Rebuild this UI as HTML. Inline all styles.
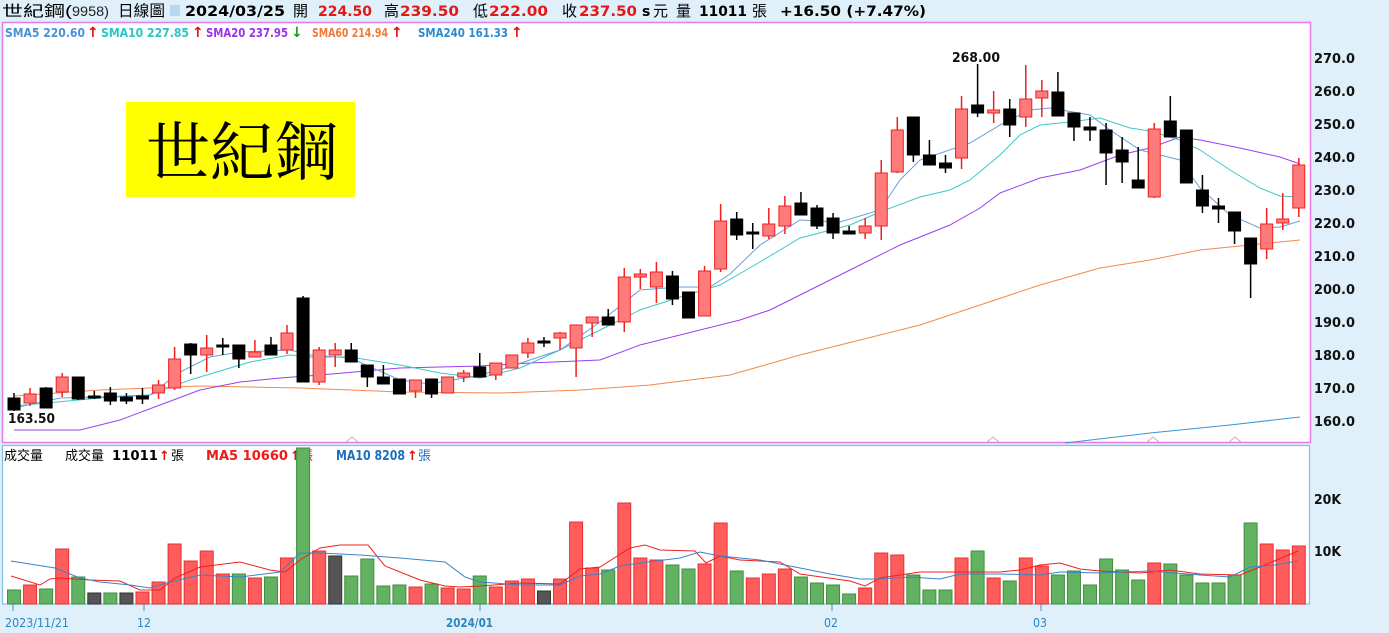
<!DOCTYPE html>
<html><head><meta charset="utf-8">
<style>
html,body{margin:0;padding:0;background:#dff0fb;width:1389px;height:633px;overflow:hidden;}
svg{display:block;}
text{font-family:"DejaVu Sans","Noto Sans CJK TC",sans-serif;}
.c{font-family:"Liberation Sans","Noto Sans CJK TC",sans-serif;}
</style></head>
<body>
<svg id="s" width="1389" height="633" xmlns="http://www.w3.org/2000/svg">
<rect x="0" y="0" width="1389" height="633" fill="#dff0fb"/>
<rect x="2.5" y="22.5" width="1308" height="420" fill="#fff" stroke="#e67ce6" stroke-width="1.5"/>
<rect x="2.5" y="445.5" width="1307" height="158.5" fill="#fff" stroke="#86bde4" stroke-width="1.2"/>
<!-- header -->
<text x="2" y="16" font-size="15" class="c" fill="#000" textLength="70" lengthAdjust="spacingAndGlyphs">世紀鋼(</text>
<text x="2" y="16" font-size="15" class="c" fill="#000" visibility="hidden">.</text>
<text x="72" y="16" font-size="14" class="c" fill="#222" textLength="37" lengthAdjust="spacingAndGlyphs">9958)</text>
<text x="118" y="16" font-size="15.5" fill="#000" class="c" textLength="47" lengthAdjust="spacingAndGlyphs">日線圖</text>
<rect x="170" y="5" width="10" height="11" fill="#b8d8f0"/>
<g font-size="14" font-weight="bold">
<text x="185" y="16" fill="#000" textLength="100" lengthAdjust="spacingAndGlyphs">2024/03/25</text>
<text x="318" y="16" fill="#e01818" textLength="54" lengthAdjust="spacingAndGlyphs">224.50</text>
<text x="400" y="16" fill="#e01818" textLength="59" lengthAdjust="spacingAndGlyphs">239.50</text>
<text x="489" y="16" fill="#e01818" textLength="59" lengthAdjust="spacingAndGlyphs">222.00</text>
<text x="579" y="16" fill="#e01818" textLength="58" lengthAdjust="spacingAndGlyphs">237.50</text>
<text x="642" y="16" fill="#000">s</text>
<text x="699" y="16" fill="#000" textLength="48" lengthAdjust="spacingAndGlyphs">11011</text>
<text x="780" y="16" fill="#000" textLength="146" lengthAdjust="spacingAndGlyphs">+16.50 (+7.47%)</text>
</g>
<g font-size="15" fill="#000" class="c">
<text x="293" y="16" class="c">開</text><text x="384" y="16" class="c">高</text><text x="473" y="16" class="c">低</text><text x="562" y="16" class="c">收</text><text x="653" y="16" class="c">元</text><text x="676" y="16" class="c">量</text><text x="752" y="16" class="c">張</text>
</g>
<!-- sma legend -->
<g font-size="12" font-weight="bold">
<text x="5" y="37" fill="#4a8fd8" textLength="80" lengthAdjust="spacingAndGlyphs">SMA5 220.60</text>
<text x="101" y="37" fill="#2cc4c4" textLength="88" lengthAdjust="spacingAndGlyphs">SMA10 227.85</text>
<text x="206" y="37" fill="#9a33e8" textLength="82" lengthAdjust="spacingAndGlyphs">SMA20 237.95</text>
<text x="312" y="37" fill="#f07a38" textLength="76" lengthAdjust="spacingAndGlyphs">SMA60 214.94</text>
<text x="418" y="37" fill="#2c8ad0" textLength="90" lengthAdjust="spacingAndGlyphs">SMA240 161.33</text>
</g>
<g font-size="14" font-weight="bold" fill="#e01010">
<text x="87" y="37">↑</text><text x="192" y="37">↑</text><text x="291" y="37" fill="#1a9a1a">↓</text><text x="391" y="37">↑</text><text x="511" y="37">↑</text>
</g>
<!-- yellow box -->
<rect x="126" y="102" width="229" height="95" fill="#ffff00"/>
<text x="242" y="175" font-size="64" text-anchor="middle" fill="#000" style="font-family:'Noto Serif CJK SC','Liberation Serif',serif">世紀鋼</text>
<text x="8" y="423" font-size="13" font-weight="bold" fill="#111" textLength="47" lengthAdjust="spacingAndGlyphs">163.50</text>
<text x="952" y="62" font-size="13" font-weight="bold" fill="#111" textLength="48" lengthAdjust="spacingAndGlyphs">268.00</text>
<!-- volume legend -->
<g font-size="13">
<text x="4" y="460" fill="#000" class="c">成交量</text>
<text x="65" y="460" fill="#000" class="c">成交量</text>
<text x="112" y="460" font-weight="bold" fill="#000" textLength="46" lengthAdjust="spacingAndGlyphs">11011</text>
<text x="159" y="460" fill="#e01010" font-weight="bold">↑</text>
<text x="171" y="460" fill="#000" class="c">張</text>
<text x="206" y="460" font-weight="bold" fill="#f01818" textLength="82" lengthAdjust="spacingAndGlyphs">MA5 10660</text>
<text x="290" y="460" fill="#e01010" font-weight="bold">↑</text>
<text x="300" y="460" fill="#f01818" class="c">張</text>
<text x="336" y="460" font-weight="bold" fill="#1a70c0" textLength="69" lengthAdjust="spacingAndGlyphs">MA10 8208</text>
<text x="407" y="460" fill="#e01010" font-weight="bold">↑</text>
<text x="418" y="460" fill="#1a70c0" class="c">張</text>
</g>
<g id="g"></g>
</svg>
<script>
var g=document.getElementById('g'),h='';
function X(i){return 14+i*16.06;}
for(var k=0;k<=11;k++){var p=270-10*k;h+='<text x="1314" y="'+(63+33*k)+'" font-size="13" font-weight="bold" fill="#111" textLength="41" lengthAdjust="spacingAndGlyphs">'+p.toFixed(1)+'</text>';}
h+='<text x="1314" y="504" font-size="13" font-weight="bold" fill="#111" textLength="27" lengthAdjust="spacingAndGlyphs">20K</text>';
h+='<text x="1314" y="556" font-size="13" font-weight="bold" fill="#111" textLength="27" lengthAdjust="spacingAndGlyphs">10K</text>';
var dt=[[13,'2023/11/21',5,64],[144,'12',137,14],[480,'2024/01',446,47],[832,'02',824,14],[1041,'03',1033,14]];
dt.forEach(function(d){h+='<line x1="'+d[0]+'" y1="604" x2="'+d[0]+'" y2="611" stroke="#3a8ec8"/>';h+='<text x="'+d[2]+'" y="627" font-size="12" fill="#2a86c0" textLength="'+d[3]+'" lengthAdjust="spacingAndGlyphs"'+(d[1]=='2024/01'?' font-weight="bold"':'')+'>'+d[1]+'</text>';});
[352,993,1153,1235].forEach(function(x){h+='<polyline points="'+(x-6)+',442 '+x+',437 '+(x+6)+',442" fill="none" stroke="#e0a0c0" stroke-width="1"/>';});
function pl(pts,c,w){var s=pts.map(function(p){return p[0]+','+p[1]}).join(' ');h+='<polyline points="'+s+'" fill="none" stroke="'+c+'" stroke-width="'+(w||1)+'"/>';}
pl([[14,396],[100,390],[200,386],[300,388],[400,392],[500,393],[580,390],[650,385],[730,375],[800,355],[860,340],[920,325],[980,305],[1040,285],[1100,268],[1150,260],[1200,250],[1250,245],[1300,240]],'#f08a50');
pl([[14,430],[80,430],[120,420],[160,405],[200,390],[240,382],[280,378],[320,375],[400,368],[480,366],[530,363],[600,360],[640,345],[700,330],[740,320],[770,310],[800,295],[850,270],[900,245],[950,225],[980,208],[1000,193],[1040,178],[1080,170],[1120,155],[1150,148],[1180,137],[1200,140],[1240,148],[1280,157],[1300,164]],'#9b3ff0');
pl([[1065,443],[1150,433],[1230,425],[1300,417]],'#3a94d4');
pl([[14,406],[100,398],[150,395],[190,380],[250,362],[290,355],[310,357],[350,357],[400,365],[440,373],[480,378],[520,368],[560,350],[600,330],[640,310],[680,297],[720,285],[760,262],[800,238],[850,225],[880,212],[920,197],[950,190],[970,180],[1000,155],[1020,135],[1040,125],[1070,122],[1100,118],[1130,128],[1150,131],[1180,140],[1200,150],[1230,170],[1260,188],[1280,196],[1300,197]],'#3cc8c8');
pl([[14,408],[60,398],[100,397],[150,395],[180,372],[210,357],[240,352],[290,350],[310,355],[350,358],[400,380],[430,384],[470,377],[500,370],[560,350],[600,322],[640,290],[680,287],[710,287],[730,274],[760,245],[800,220],[840,222],[880,210],[900,180],[920,160],[970,143],[1000,125],[1030,110],[1050,108],[1090,115],[1110,130],[1140,150],[1180,160],[1200,188],[1230,215],[1260,228],[1280,227],[1300,221]],'#6a9fd8');
var C=[[398,410,393,411,'k'],[394,403,388,406,'r'],[388,408,387,408,'k'],[377,392,373,397,'r'],[377,399,377,400,'k'],[396,398,391,399,'k'],[393,401,387,405,'k'],[397,401,393,404,'k'],[396,399,388,404,'k'],[385,393,380,399,'r'],[359,388,347,390,'r'],[344,355,343,374,'k'],[348,355,335,372,'r'],[345,347,338,355,'k'],[345,359,345,368,'k'],[352,357,340,357,'r'],[345,355,337,355,'k'],[333,350,325,354,'r'],[298,382,296,382,'k'],[350,382,347,385,'r'],[350,355,343,367,'r'],[350,362,343,362,'k'],[365,377,365,387,'k'],[377,384,365,384,'k'],[379,394,379,394,'k'],[380,391,380,398,'r'],[379,394,379,398,'k'],[377,393,377,393,'r'],[373,377,370,382,'r'],[367,377,353,377,'k'],[363,375,363,380,'r'],[355,368,355,368,'r'],[343,353,338,358,'r'],[341,343,337,347,'k'],[333,338,332,350,'r'],[325,348,325,377,'r'],[317,323,317,337,'r'],[317,325,309,325,'k'],[277,322,268,332,'r'],[274,277,269,289,'r'],[272,287,262,303,'r'],[276,299,271,305,'k'],[292,318,292,318,'k'],[271,316,266,316,'r'],[221,269,204,272,'r'],[219,235,212,240,'k'],[232,234,223,249,'k'],[224,236,208,239,'r'],[206,226,196,234,'r'],[203,215,192,215,'k'],[208,226,205,229,'k'],[218,233,213,239,'k'],[231,234,226,234,'k'],[226,233,218,239,'r'],[173,226,160,240,'r'],[130,172,117,173,'r'],[117,155,117,162,'k'],[155,165,140,165,'k'],[163,168,155,173,'k'],[109,158,96,169,'r'],[105,113,64,117,'k'],[110,113,91,123,'r'],[109,125,99,137,'k'],[99,117,65,127,'r'],[91,98,80,117,'r'],[92,116,72,116,'k'],[113,127,113,141,'k'],[127,130,117,141,'k'],[130,153,123,185,'k'],[150,162,137,183,'k'],[180,188,147,188,'k'],[129,197,123,198,'r'],[121,137,96,137,'k'],[130,183,130,183,'k'],[190,206,175,213,'k'],[206,209,198,223,'k'],[212,231,212,244,'k'],[238,264,238,298,'k'],[224,249,208,259,'r'],[219,223,193,230,'r'],[165,208,158,217,'r']];
C.forEach(function(c,i){var x=X(i),r=c[4]=='r',sc=r?'#ee2020':'#000',fc=r?'#ff7a7a':'#000';
h+='<line x1="'+x+'" y1="'+c[2]+'" x2="'+x+'" y2="'+c[3]+'" stroke="'+sc+'" stroke-width="1.5"/>';
var hh=Math.max(c[1]-c[0],2);h+='<rect x="'+(x-6)+'" y="'+c[0]+'" width="12" height="'+hh+'" fill="'+fc+'" stroke="'+sc+'" stroke-width="1"/>';});
var V=[['g',590],['r',585],['g',589],['r',549],['g',577],['k',593],['g',593],['k',593],['r',592],['r',582],['r',544],['r',561],['r',551],['r',574],['g',574],['r',578],['g',577],['r',558],['g',448],['r',551],['k',556],['g',576],['g',559],['g',586],['g',585],['r',587],['g',584],['r',588],['r',589],['g',576],['r',587],['r',581],['r',579],['k',591],['r',579],['r',522],['r',568],['g',570],['r',503],['r',558],['r',560],['g',565],['g',569],['r',564],['r',523],['g',571],['r',578],['r',574],['r',569],['g',577],['g',583],['g',585],['g',594],['r',588],['r',553],['r',555],['g',575],['g',590],['g',590],['r',558],['g',551],['r',578],['g',581],['r',558],['r',566],['g',575],['g',571],['g',585],['g',559],['g',570],['g',580],['r',563],['g',564],['g',575],['g',583],['g',583],['g',575],['g',523],['r',544],['r',550],['r',546]];
V.forEach(function(v,i){var x=X(i),f=v[0]=='r'?'#ff5c5c':v[0]=='g'?'#62b262':'#555',s=v[0]=='r'?'#e83030':v[0]=='g'?'#3f8f3f':'#333';
h+='<rect x="'+(x-6.5)+'" y="'+v[1]+'" width="13" height="'+(604-v[1])+'" fill="'+f+'" stroke="'+s+'" stroke-width="1"/>';});
pl([[11,576],[40,585],[50,579],[60,578],[90,580],[120,581],[140,590],[160,590],[175,578],[200,567],[240,562],[270,570],[285,572],[300,560],[320,548],[340,545],[368,545],[385,566],[420,580],[445,586],[460,587],[480,586],[520,583],[560,584],[580,569],[600,567],[630,548],[645,545],[660,550],[695,551],[706,563],[720,556],[740,560],[780,562],[800,574],[850,581],[865,586],[880,578],[900,575],[920,572],[940,572],[1000,572],[1020,570],[1040,565],[1060,563],[1080,569],[1100,571],[1140,573],[1170,570],[1200,574],[1240,575],[1260,567],[1298,551]],'#f02020');
pl([[11,561],[55,568],[80,578],[100,582],[130,585],[150,588],[170,582],[200,575],[240,577],[280,572],[300,553],[320,553],[360,555],[400,558],[445,562],[465,577],[480,582],[520,585],[560,585],[580,576],[600,574],[620,566],[640,563],[680,558],[700,552],[720,556],[760,560],[790,566],[830,574],[860,579],[880,579],[910,577],[940,579],[960,574],[1000,574],[1040,575],[1060,572],[1100,573],[1150,571],[1200,575],[1230,577],[1250,567],[1275,565],[1298,561]],'#3a84c4');
g.innerHTML=h;
</script>
</body></html>
